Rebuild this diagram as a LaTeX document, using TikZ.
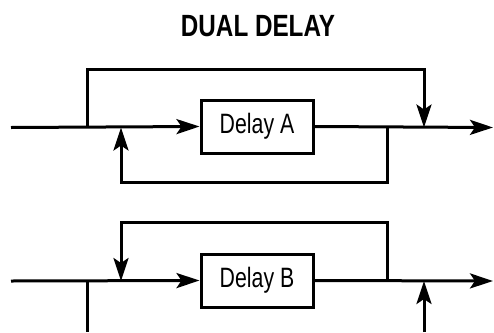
\documentclass[tikz,border=0pt]{standalone}
\usepackage{fontspec}
\usepackage{tikz}
\usetikzlibrary{arrows.meta}
\newfontfamily\titlefont[FakeStretch=0.79]{Liberation Sans}
\newfontfamily\labelfont[FakeStretch=0.76]{Liberation Sans}
\begin{document}
\begin{tikzpicture}[x=1pt,y=-1pt,
  wire/.style={line width=3pt},
  tip/.style={wire,-{Stealth[length=23pt,width=15pt,inset=5pt]}},
  delaybox/.style={draw,line width=3pt,minimum width=112pt,minimum height=53pt,inner sep=0pt,font=\labelfont\fontsize{28}{30}\selectfont}]
\useasboundingbox (0,0) rectangle (494,332);
\node[font=\titlefont\bfseries\fontsize{30.7}{32}\selectfont] (title) at (258,26) {DUAL DELAY};
% upper path
\node[delaybox] (delayA) at (257,126.5) {Delay A};
\coordinate (inA) at (11,127.5);
\coordinate (splitA) at (87,127.5);
\coordinate (sumA) at (121,127.5);
\coordinate (tapA) at (387,127.5);
\coordinate (mixA) at (424,127.5);
\coordinate (outA) at (493,127.5);
\coordinate (loopA) at (250,69);
\coordinate (fbA) at (250,182);
\draw[tip] (inA) -- (delayA.west);
\draw[tip] (delayA.east) -- (outA);
\draw[tip] (splitA) |- (loopA) -| (mixA);
\draw[tip] (tapA) |- (fbA) -| (sumA);
% lower path
\node[delaybox] (delayB) at (257,280.5) {Delay B};
\coordinate (inB) at (11,281);
\coordinate (splitB) at (87,281);
\coordinate (sumB) at (121,281);
\coordinate (tapB) at (387,281);
\coordinate (mixB) at (424,281);
\coordinate (outB) at (493,281);
\coordinate (loopB) at (250,222);
\coordinate (downB) at (87,332);
\coordinate (upB) at (424,332);
\draw[tip] (inB) -- (delayB.west);
\draw[tip] (delayB.east) -- (outB);
\draw[tip] (tapB) |- (loopB) -| (sumB);
\draw[wire] (splitB) -- (downB);
\draw[tip] (upB) -- (mixB);
\end{tikzpicture}
\end{document}
